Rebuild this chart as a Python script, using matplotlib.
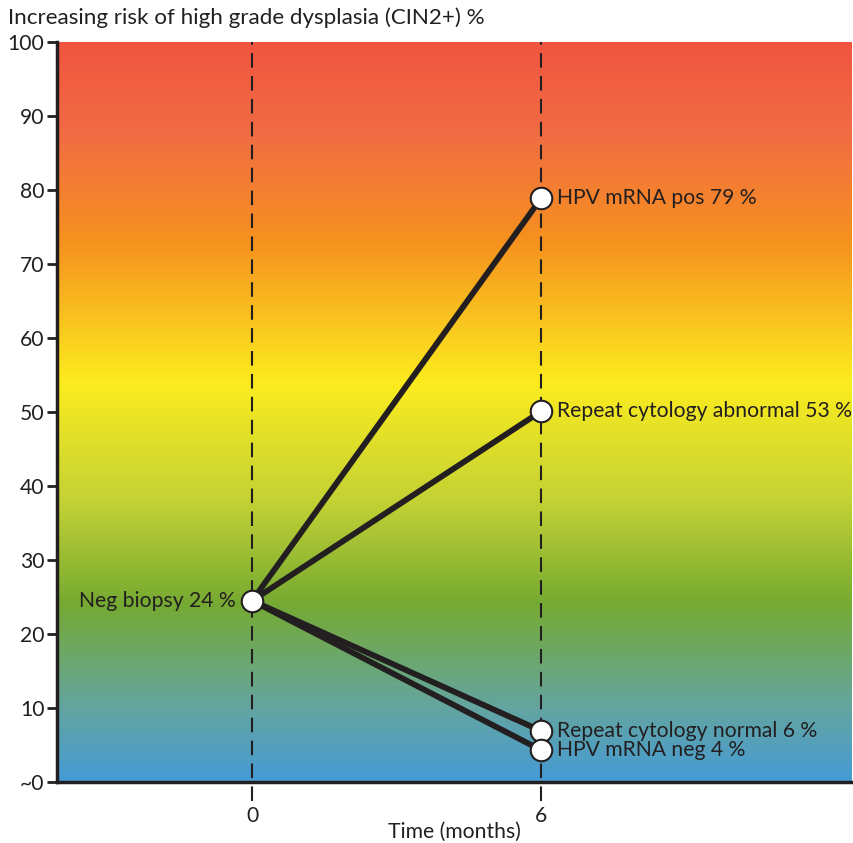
import matplotlib
matplotlib.use("Agg")
import matplotlib.pyplot as plt
import numpy as np
from matplotlib.colors import LinearSegmentedColormap

plt.rcParams['font.family'] = ['Lato', 'DejaVu Sans']

# Data
start_time = 0
start_value = 24.5
start_label = "Neg biopsy 24 %"
end_time = 6
end_values = [78.9, 50.1, 6.9, 4.3]
end_labels = ["HPV mRNA pos 79 %", "Repeat cytology abnormal 53 %",
              "Repeat cytology normal 6 %", "HPV mRNA neg 4 %"]
y_ticks = [0, 10, 20, 30, 40, 50, 60, 70, 80, 90, 100]
y_tick_labels = ["~0", "10", "20", "30", "40", "50", "60", "70", "80", "90", "100"]
x_ticks = [0, 6]
x_tick_labels = ["0", "6"]

# gradient stops (value, colour)
grad_stops = [(0, "#469BD5"), (10, "#64A5A0"), (24, "#76AA32"), (38, "#C4D234"),
              (54, "#FCEC1F"), (73, "#F6921E"), (88, "#F16B44"), (100, "#F0553F")]

fig = plt.figure(figsize=(8.54, 8.43), dpi=100)
ax = fig.add_axes([57/854, 1-782/843, (852-57)/854, (782-42)/843])
xmin, xmax = -4.05, 12.45
ax.set_xlim(xmin, xmax)
ax.set_ylim(0, 100)

cmap = LinearSegmentedColormap.from_list(
    "risk", [(v/100, c) for v, c in grad_stops])
grad = np.linspace(0, 1, 512).reshape(-1, 1)
ax.imshow(grad, cmap=cmap, aspect='auto', origin='lower',
          extent=[xmin, xmax, 0, 100], zorder=0, interpolation='bilinear')

for xv in x_ticks:
    ax.plot([xv, xv], [-2.5, 100], color="#231f20", lw=1.5,
            dashes=(7, 4), clip_on=False, zorder=2)

for yv in end_values:
    ax.plot([start_time, end_time], [start_value, yv], color="#231f20",
            lw=4.2, solid_capstyle='round', zorder=3)

ax.plot([start_time] + [end_time]*len(end_values), [start_value] + end_values,
        'o', ms=15.5, mfc='white', mec='#231f20', mew=1.5, zorder=4, linestyle='none')

fs = 15.2
ax.text(start_time - 0.33, start_value, start_label, ha='right', va='center',
        fontsize=fs, color='#231f20', zorder=5)
for yv, lab in zip(end_values, end_labels):
    ax.text(end_time + 0.33, yv, lab, ha='left', va='center',
            fontsize=fs, color='#231f20', zorder=5)

for s in ['top', 'right']:
    ax.spines[s].set_visible(False)
for s in ['left', 'bottom']:
    ax.spines[s].set_linewidth(2.5)
    ax.spines[s].set_color('#231f20')
    ax.spines[s].set_zorder(6)

ax.set_yticks(y_ticks)
ax.set_yticklabels(y_tick_labels, fontsize=fs, color='#231f20')
ax.tick_params(axis='y', length=7, width=2, color='#231f20', pad=2)
ax.set_xticks(x_ticks)
ax.set_xticklabels(x_tick_labels, fontsize=fs, color='#231f20')
ax.tick_params(axis='x', length=0, pad=17)
ax.set_xlabel("Time (months)", fontsize=fs, color='#231f20', labelpad=-3)

fig.text(8/854, 1-18/843, "Increasing risk of high grade dysplasia (CIN2+) %",
         ha='left', va='center', fontsize=16.1, color='#231f20')

fig.savefig("out.png", dpi=100)
